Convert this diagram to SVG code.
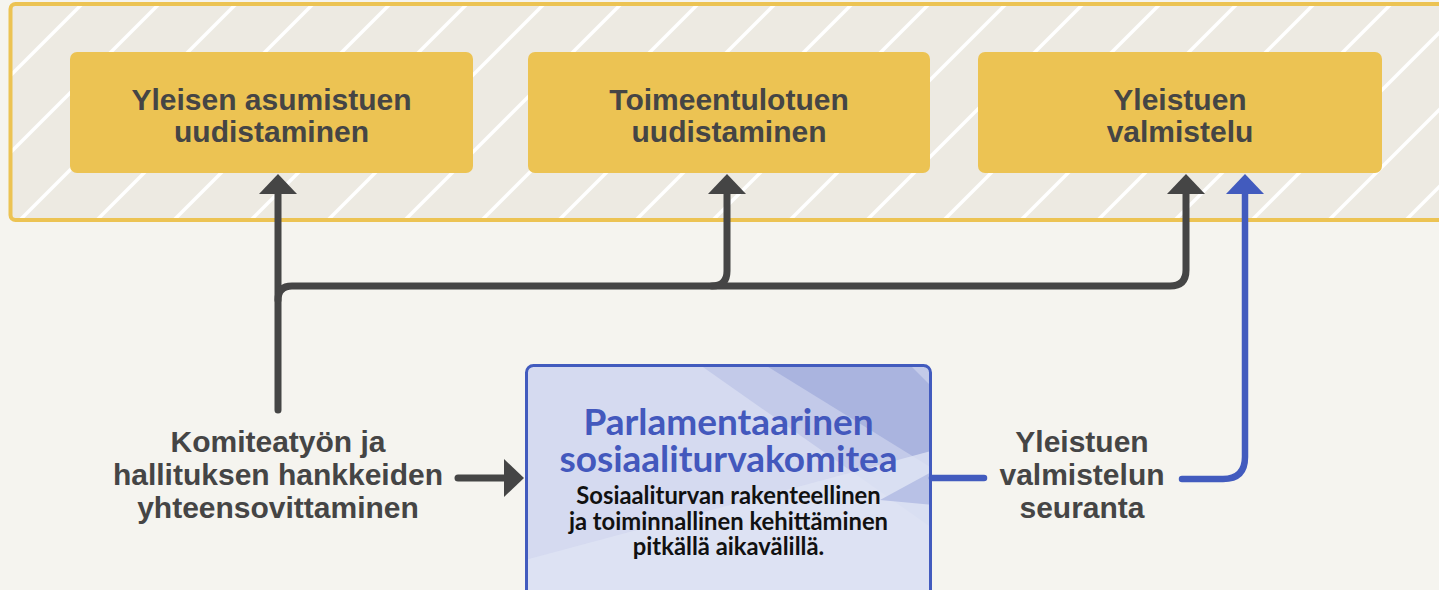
<svg xmlns="http://www.w3.org/2000/svg" width="1439" height="590" viewBox="0 0 1439 590">
<defs>
<pattern id="stripes" patternUnits="userSpaceOnUse" width="77" height="77">
<rect width="77" height="77" fill="#edeae2"/>
<path d="M-6,15 L15,-6 M3,83 L83,3" stroke="#ffffff" stroke-width="3.5"/>
</pattern>
<marker id="ahDark" markerUnits="userSpaceOnUse" viewBox="0 0 20 38" markerWidth="20" markerHeight="38" refX="4" refY="19" orient="auto">
<path d="M0,0 L20,19 L0,38 Z" fill="#454545"/>
</marker>
<marker id="ahBlue" markerUnits="userSpaceOnUse" viewBox="0 0 20 38" markerWidth="20" markerHeight="38" refX="4" refY="19" orient="auto">
<path d="M0,0 L20,19 L0,38 Z" fill="#425bbe"/>
</marker>
<clipPath id="cbClip"><rect x="526.5" y="365.5" width="404" height="240" rx="7"/></clipPath>
<style>
.ybox{fill:#ecc353;}
.ytxt{font-family:"Liberation Sans",Arial,sans-serif;font-weight:bold;font-size:30px;fill:#454545;text-anchor:middle;}
.lbl{font-family:"Liberation Sans",Arial,sans-serif;font-weight:bold;font-size:30px;fill:#454545;text-anchor:middle;}
.dark{fill:none;stroke:#454545;stroke-width:7;stroke-linecap:round;stroke-linejoin:round;}
.blue{fill:none;stroke:#425bbe;stroke-width:6.5;stroke-linecap:round;stroke-linejoin:round;}
.ctitle{font-family:Lato,"Liberation Sans",sans-serif;font-weight:bold;font-size:37px;fill:#4358bd;text-anchor:middle;}
.csub{font-family:Lato,"Liberation Sans",sans-serif;font-weight:bold;font-size:23.8px;fill:#111111;text-anchor:middle;}
</style>
</defs>
<rect x="0" y="0" width="1439" height="590" fill="#f5f4ef"/>
<g id="frame">
<rect x="10.5" y="4" width="1460" height="216" rx="5" fill="url(#stripes)" stroke="#ecc353" stroke-width="4"/>
</g>
<g id="node-asumistuki">
<rect class="ybox" x="70" y="52" width="403" height="121" rx="7"/>
<text class="ytxt" x="271.5" y="110">Yleisen asumistuen</text>
<text class="ytxt" x="271.5" y="142">uudistaminen</text>
</g>
<g id="node-toimeentulotuki">
<rect class="ybox" x="528" y="52" width="402" height="121" rx="7"/>
<text class="ytxt" x="729" y="110">Toimeentulotuen</text>
<text class="ytxt" x="729" y="142">uudistaminen</text>
</g>
<g id="node-yleistuki">
<rect class="ybox" x="978" y="52" width="404" height="121" rx="7"/>
<text class="ytxt" x="1180" y="110">Yleistuen</text>
<text class="ytxt" x="1180" y="142">valmistelu</text>
</g>
<g id="node-komiteatyo">
<text class="lbl" x="278" y="452">Komiteatyön ja</text>
<text class="lbl" x="278" y="485">hallituksen hankkeiden</text>
<text class="lbl" x="278" y="518">yhteensovittaminen</text>
</g>
<g id="node-seuranta">
<text class="lbl" x="1082" y="452">Yleistuen</text>
<text class="lbl" x="1082" y="485">valmistelun</text>
<text class="lbl" x="1082" y="518">seuranta</text>
</g>
<g id="node-komitea">
<rect x="526.5" y="365.5" width="404" height="240" rx="7" fill="#d5daf0"/>
<g clip-path="url(#cbClip)">
<polygon points="700,365 935,365 935,530" fill="#c3cae9"/>
<polygon points="765,365 910,365 935,390 935,470" fill="#aab4df"/>
<polygon points="525,560 935,450 935,600 525,600" fill="#dfe3f4" opacity="0.8"/>
<polygon points="880,500 935,470 935,505" fill="#b8c1e6"/>
</g>
<rect x="526.5" y="365.5" width="404" height="240" rx="7" fill="none" stroke="#425bbe" stroke-width="3"/>
<text class="ctitle" x="728.5" y="435">Parlamentaarinen</text>
<text class="ctitle" x="728.5" y="472">sosiaaliturvakomitea</text>
<text class="csub" x="728.5" y="504">Sosiaaliturvan rakenteellinen</text>
<text class="csub" x="728.5" y="530">ja toiminnallinen kehittäminen</text>
<text class="csub" x="728.5" y="555">pitkällä aikavälillä.</text>
</g>
<g id="connectors">
<path class="dark" d="M278,410 L278,190" marker-end="url(#ahDark)"/>
<path class="dark" d="M278,300 Q278,286 292,286 L1170,286 Q1186,286 1186,270 L1186,190" marker-end="url(#ahDark)"/>
<path class="dark" d="M712,286 Q727,286 727,271 L727,190" marker-end="url(#ahDark)"/>
<path class="dark" d="M458,478 L508,478" marker-end="url(#ahDark)"/>
<path class="blue" d="M932,478 L984,478"/>
<path class="blue" d="M1182,479 L1223,479 Q1245,479 1245,457 L1245,190" marker-end="url(#ahBlue)"/>
</g>
</svg>
